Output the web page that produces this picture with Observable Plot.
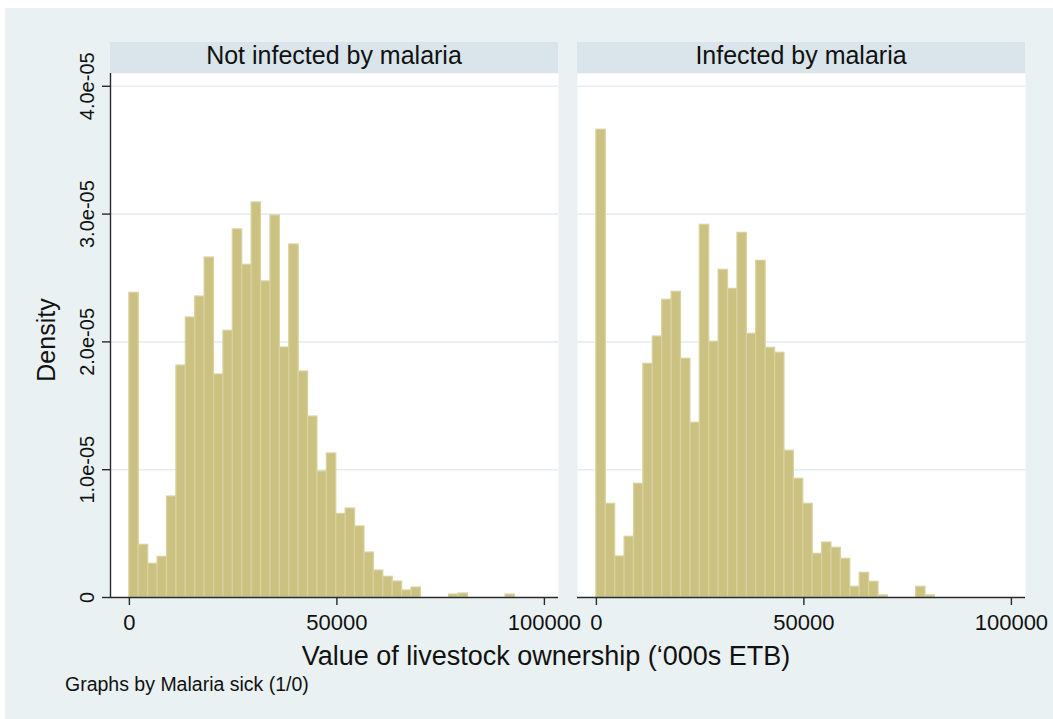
<!DOCTYPE html>
<html>
<head>
<meta charset="utf-8">
<script src="https://cdn.jsdelivr.net/npm/d3@7"></script>
<script src="https://cdn.jsdelivr.net/npm/@observablehq/plot@0.6"></script>
<style>
  html, body { margin: 0; padding: 0; background: #ffffff; }
  #wrap { position: relative; width: 1053px; height: 719px; overflow: hidden; }
  #bg { position: absolute; left: 5px; top: 8px; right: 0; bottom: 0; background: #eaf1f3; }
  #chart { position: absolute; left: 0; top: 0; }
</style>
</head>
<body>
<div id="wrap"><div id="bg"></div><div id="chart"></div></div>
<script>
// Panels (one per malaria status)
const groups = ["Not infected by malaria", "Infected by malaria"];

// Histogram bins start at 0 and share one width
const binWidth = 2266;

// Density per bin, not infected
const notInfected = [
  2.384e-5, 0.412e-5, 0.264e-5, 0.318e-5, 0.790e-5, 1.815e-5, 2.191e-5, 2.355e-5,
  2.660e-5, 1.745e-5, 2.087e-5, 2.880e-5, 2.603e-5, 3.091e-5, 2.473e-5, 2.989e-5,
  1.956e-5, 2.762e-5, 1.768e-5, 1.416e-5, 0.986e-5, 1.127e-5, 0.654e-5, 0.696e-5,
  0.556e-5, 0.352e-5, 0.211e-5, 0.162e-5, 0.125e-5, 0.055e-5, 0.078e-5, 0, 0, 0,
  0.023e-5, 0.031e-5, 0, 0, 0, 0, 0.023e-5
];

// Density per bin, infected
const infected = [
  3.660e-5, 0.733e-5, 0.321e-5, 0.475e-5, 0.890e-5, 1.828e-5, 2.042e-5, 2.329e-5,
  2.392e-5, 1.868e-5, 1.367e-5, 2.916e-5, 2.001e-5, 2.564e-5, 2.415e-5, 2.853e-5,
  2.063e-5, 2.634e-5, 1.954e-5, 1.915e-5, 1.148e-5, 0.929e-5, 0.733e-5, 0.342e-5,
  0.430e-5, 0.389e-5, 0.303e-5, 0.084e-5, 0.193e-5, 0.123e-5, 0.016e-5, 0, 0, 0,
  0.084e-5, 0.016e-5
];

// Axis ticks and their labels
const xTicks = [0, 50000, 100000];
const xTickLabels = ["0", "50000", "100000"];
const yTicks = [0, 1e-5, 2e-5, 3e-5, 4e-5];
const yTickLabels = ["0", "1.0e-05", "2.0e-05", "3.0e-05", "4.0e-05"];

const xDomain = [-4550, 103400];
const yDomain = [0, 4.1e-5];

// One row per non-empty bin
const bins = [];
[notInfected, infected].forEach((series, g) => {
  series.forEach((density, i) => {
    if (density > 0) bins.push({group: groups[g], x1: i * binWidth, x2: (i + 1) * binWidth, density});
  });
});

const font = "'Liberation Sans', Arial, Helvetica, sans-serif";
const ink = "#111111";
const axisInk = "#2a2a2a";

const chart = Plot.plot({
  width: 1053,
  height: 719,
  marginLeft: 110,
  marginRight: 27,
  marginTop: 73,
  marginBottom: 122,
  style: {background: "transparent", fontFamily: font, color: ink, overflow: "visible"},
  fx: {domain: groups, paddingInner: 0.0406, paddingOuter: 0, axis: null, label: null},
  x: {domain: xDomain, label: null},
  y: {domain: yDomain, label: null},
  marks: [
    Plot.frame({fill: "white", stroke: "none"}),
    Plot.gridY(yTicks.slice(1), {stroke: "#e6eef1", strokeOpacity: 1, strokeWidth: 1.6}),
    Plot.rectY(bins, {
      x1: "x1", x2: "x2", y: "density", fx: "group",
      fill: "#cbc282", stroke: "#d8d1a0", strokeWidth: 1.2
    }),
    Plot.ruleY([0], {stroke: axisInk, strokeWidth: 1.4}),
    Plot.ruleX([groups[0]], {fx: d => d, x: () => xDomain[0], stroke: axisInk, strokeWidth: 1.4}),
    Plot.axisX({
      ticks: xTicks,
      tickFormat: d => xTickLabels[xTicks.indexOf(d)],
      tickSize: 8, tickPadding: 9, fontSize: 22,
      stroke: axisInk, strokeWidth: 1.4, fill: ink, label: null
    }),
    Plot.axisY({
      ticks: yTicks,
      tickFormat: d => yTickLabels[yTicks.indexOf(d)],
      tickSize: 8, tickPadding: 9, tickRotate: -90, fontSize: 20,
      stroke: axisInk, strokeWidth: 1.4, fill: ink, label: null
    })
  ]
});

document.getElementById("chart").append(chart);

// Panel header strips and the overall titles
const svg = d3.select(chart);
const fx = chart.scale("fx");
const bandwidth = fx.bandwidth;
groups.forEach(g => {
  const x0 = fx.apply(g);
  svg.append("rect")
    .attr("x", x0).attr("y", 42).attr("width", bandwidth).attr("height", 31)
    .attr("fill", "#d9e5ea");
  svg.append("text")
    .attr("x", x0 + bandwidth / 2).attr("y", 64)
    .attr("text-anchor", "middle")
    .attr("font-family", font).attr("font-size", 25).attr("fill", ink)
    .text(g);
});

svg.append("text")
  .attr("transform", "translate(55,340) rotate(-90)")
  .attr("text-anchor", "middle")
  .attr("font-family", font).attr("font-size", 25).attr("fill", ink)
  .text("Density");

svg.append("text")
  .attr("x", 546).attr("y", 665)
  .attr("text-anchor", "middle")
  .attr("font-family", font).attr("font-size", 27).attr("fill", ink)
  .text("Value of livestock ownership (\u2018000s ETB)");

svg.append("text")
  .attr("x", 65).attr("y", 691)
  .attr("text-anchor", "start")
  .attr("font-family", font).attr("font-size", 19.5).attr("fill", ink)
  .text("Graphs by Malaria sick (1/0)");
</script>
</body>
</html>
